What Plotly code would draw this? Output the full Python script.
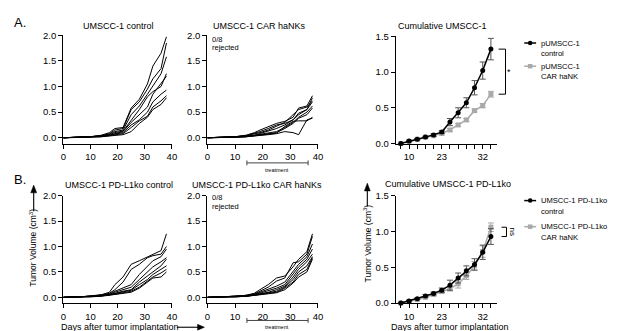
import plotly.graph_objects as go

W, H = 617, 331
def fx(p): return p / W
def fy(p): return 1 - p / H

FONT = "Liberation Sans, Arial, sans-serif"
GRAY = "#a9a9a9"

# ---------------- data ----------------
days = [0, 7, 10, 14, 17, 19, 22, 25, 28, 31, 33, 36, 38]

ctrl_A = [
    [0, 0.01, 0.02, 0.05, 0.10, 0.18, 0.20, 0.58, 0.75, 1.05, 1.40, 1.65, 1.97],
    [0, 0.01, 0.02, 0.04, 0.08, 0.15, 0.18, 0.55, 0.70, 0.95, 1.15, 1.35, 1.85],
    [0, 0.01, 0.02, 0.04, 0.07, 0.12, 0.15, 0.45, 0.62, 0.85, 1.00, 1.25, 1.58],
    [0, 0.01, 0.02, 0.03, 0.06, 0.10, 0.13, 0.35, 0.55, 0.80, 0.90, 1.00, 1.25],
    [0, 0.01, 0.02, 0.03, 0.05, 0.08, 0.12, 0.30, 0.45, 0.60, 0.85, 1.05, 1.20],
    [0, 0.01, 0.01, 0.03, 0.05, 0.07, 0.10, 0.25, 0.35, 0.50, 0.70, 0.85, 0.93],
    [0, 0.01, 0.01, 0.02, 0.04, 0.06, 0.08, 0.20, 0.33, 0.42, 0.60, 0.72, 0.82],
    [0, 0.00, 0.01, 0.02, 0.03, 0.05, 0.06, 0.12, 0.28, 0.40, 0.55, 0.65, 0.78],
]
car_A = [
    [0, 0.01, 0.02, 0.05, 0.10, 0.15, 0.22, 0.28, 0.32, 0.40, 0.58, 0.62, 0.82],
    [0, 0.01, 0.02, 0.04, 0.08, 0.12, 0.18, 0.25, 0.28, 0.35, 0.45, 0.55, 0.78],
    [0, 0.01, 0.02, 0.04, 0.07, 0.10, 0.15, 0.22, 0.30, 0.45, 0.55, 0.60, 0.72],
    [0, 0.01, 0.01, 0.03, 0.05, 0.08, 0.12, 0.18, 0.25, 0.35, 0.48, 0.55, 0.70],
    [0, 0.01, 0.01, 0.03, 0.05, 0.07, 0.10, 0.12, 0.20, 0.30, 0.40, 0.50, 0.62],
    [0, 0.00, 0.01, 0.02, 0.04, 0.06, 0.08, 0.10, 0.18, 0.28, 0.38, 0.45, 0.58],
    [0, 0.00, 0.01, 0.02, 0.03, 0.05, 0.07, 0.09, 0.22, 0.32, 0.33, 0.33, 0.40],
    [0, 0.00, 0.01, 0.02, 0.03, 0.04, 0.06, 0.08, 0.12, 0.10, 0.06, 0.35, 0.38],
]
ctrl_B = [
    [0, 0.01, 0.03, 0.05, 0.10, 0.25, 0.40, 0.65, 0.72, 0.80, 0.85, 0.92, 1.25],
    [0, 0.01, 0.02, 0.05, 0.08, 0.15, 0.30, 0.55, 0.65, 0.78, 0.82, 0.85, 1.00],
    [0, 0.01, 0.02, 0.04, 0.07, 0.12, 0.18, 0.25, 0.45, 0.60, 0.72, 0.80, 0.95],
    [0, 0.01, 0.02, 0.04, 0.06, 0.10, 0.15, 0.20, 0.35, 0.50, 0.60, 0.70, 0.78],
    [0, 0.01, 0.02, 0.03, 0.05, 0.08, 0.12, 0.15, 0.30, 0.42, 0.50, 0.62, 0.75],
    [0, 0.01, 0.02, 0.03, 0.05, 0.07, 0.10, 0.14, 0.25, 0.35, 0.45, 0.55, 0.62],
    [0, 0.00, 0.01, 0.03, 0.04, 0.06, 0.09, 0.12, 0.20, 0.32, 0.40, 0.48, 0.55],
    [0, 0.00, 0.01, 0.02, 0.04, 0.05, 0.08, 0.10, 0.18, 0.30, 0.38, 0.40, 0.50],
]
car_B = [
    [0, 0.01, 0.02, 0.04, 0.08, 0.15, 0.25, 0.38, 0.42, 0.60, 0.75, 0.90, 1.25],
    [0, 0.01, 0.02, 0.04, 0.07, 0.12, 0.20, 0.32, 0.38, 0.68, 0.70, 0.85, 1.20],
    [0, 0.01, 0.02, 0.03, 0.06, 0.10, 0.15, 0.22, 0.30, 0.50, 0.65, 0.80, 1.05],
    [0, 0.01, 0.01, 0.03, 0.05, 0.08, 0.12, 0.18, 0.25, 0.45, 0.60, 0.75, 0.95],
    [0, 0.01, 0.01, 0.03, 0.05, 0.07, 0.10, 0.15, 0.22, 0.40, 0.55, 0.70, 0.85],
    [0, 0.00, 0.01, 0.02, 0.04, 0.06, 0.09, 0.12, 0.20, 0.35, 0.50, 0.62, 0.80],
    [0, 0.00, 0.01, 0.02, 0.04, 0.05, 0.08, 0.10, 0.18, 0.30, 0.45, 0.55, 0.78],
    [0, 0.00, 0.01, 0.02, 0.03, 0.05, 0.07, 0.09, 0.15, 0.28, 0.40, 0.50, 0.75],
]

cum_pos = list(range(12))
cum_labels = ["", "10", "", "", "", "23", "", "", "", "", "32", ""]

cumA_ctrl = [0.0, 0.035, 0.06, 0.09, 0.12, 0.16, 0.30, 0.43, 0.57, 0.78, 1.02, 1.32]
cumA_ctrl_err = [0.0, 0.01, 0.01, 0.01, 0.02, 0.02, 0.05, 0.07, 0.07, 0.10, 0.12, 0.15]
cumA_car = [0.0, 0.03, 0.06, 0.09, 0.11, 0.14, 0.19, 0.26, 0.33, 0.46, 0.53, 0.69]
cumA_car_err = [0.0, 0.01, 0.01, 0.01, 0.01, 0.02, 0.02, 0.02, 0.02, 0.02, 0.03, 0.04]

cumB_ctrl = [0.0, 0.03, 0.06, 0.10, 0.135, 0.18, 0.25, 0.35, 0.45, 0.54, 0.71, 0.93]
cumB_ctrl_err = [0.0, 0.01, 0.01, 0.02, 0.02, 0.03, 0.07, 0.07, 0.07, 0.08, 0.10, 0.11]
cumB_car = [0.0, 0.02, 0.05, 0.08, 0.12, 0.16, 0.20, 0.27, 0.38, 0.52, 0.72, 1.06]
cumB_car_err = [0.0, 0.01, 0.01, 0.01, 0.02, 0.02, 0.03, 0.06, 0.05, 0.06, 0.08, 0.06]

# ---------------- figure ----------------
fig = go.Figure()

def add_individual(curves, xa, ya):
    for c in curves:
        fig.add_trace(go.Scatter(x=days, y=c, mode="lines", xaxis=xa, yaxis=ya,
                                 line=dict(color="black", width=1), showlegend=False,
                                 hoverinfo="skip"))

add_individual(ctrl_A, "x", "y")
add_individual(car_A, "x2", "y2")
add_individual(ctrl_B, "x4", "y4")
add_individual(car_B, "x5", "y5")

def add_cum(vals, err, color, symbol, xa, ya, errcolor):
    fig.add_trace(go.Scatter(x=cum_pos, y=vals, mode="lines+markers", xaxis=xa, yaxis=ya,
                             line=dict(color=color, width=1.5),
                             marker=dict(color=color, size=5, symbol=symbol),
                             error_y=dict(type="data", array=err, color=errcolor,
                                          thickness=1, width=3),
                             cliponaxis=False, showlegend=False))

add_cum(cumA_car, cumA_car_err, GRAY, "square", "x3", "y3", GRAY)
add_cum(cumA_ctrl, cumA_ctrl_err, "black", "circle", "x3", "y3", "#555555")
add_cum(cumB_car, cumB_car_err, GRAY, "square", "x6", "y6", GRAY)
add_cum(cumB_ctrl, cumB_ctrl_err, "black", "circle", "x6", "y6", "#555555")

# ---------------- axes ----------------
tickfont = dict(family=FONT, size=9.5, color="black")
axcommon = dict(showline=True, linecolor="black", linewidth=1.4, ticks="outside",
                ticklen=4, tickwidth=1.2, tickcolor="black", showgrid=False,
                zeroline=False, tickfont=tickfont)

def ind_axes(n, xl, xr, ytop, ybot):
    sx = "" if n == 1 else str(n)
    fig.update_layout(**{
        "xaxis" + sx: dict(domain=[fx(xl), fx(xr)], anchor="y" + sx, range=[0, 40],
                           tickvals=[0, 10, 20, 30, 40], **axcommon),
        "yaxis" + sx: dict(domain=[fy(ybot), fy(ytop)], anchor="x" + sx,
                           range=[-0.113, 2.0], tickvals=[0, 0.5, 1.0, 1.5, 2.0],
                           tickformat=".1f", **axcommon),
    })

ind_axes(1, 53, 163, 22, 134)
ind_axes(2, 199, 311, 22, 134)
ind_axes(4, 53, 163, 188, 299)
ind_axes(5, 199, 311, 188, 299)

def cum_axes(n, ytop, ybot):
    sx = str(n)
    fig.update_layout(**{
        "xaxis" + sx: dict(domain=[fx(390), fx(492)], anchor="y" + sx, range=[-0.6, 11.7],
                           tickvals=cum_pos, ticktext=cum_labels, **axcommon),
        "yaxis" + sx: dict(domain=[fy(ybot), fy(ytop)], anchor="x" + sx,
                           range=[0, 1.5], tickvals=[0, 0.5, 1.0, 1.5],
                           tickformat=".1f", **axcommon),
    })

cum_axes(3, 23, 134)
cum_axes(6, 188, 299)

# ---------------- annotations ----------------
ann = []
def text(x, y, t, size=9, xanchor="center", angle=0, yanchor="middle"):
    ann.append(dict(x=fx(x), y=fy(y), xref="paper", yref="paper", text=t,
                    showarrow=False, xanchor=xanchor, yanchor=yanchor, textangle=angle,
                    borderpad=0, font=dict(family=FONT, size=size, color="black")))

text(2, 9, "A.", size=13, xanchor="left")
text(2, 171, "B.", size=13, xanchor="left")
text(109, 12, "UMSCC-1 control")
text(252, 12, "UMSCC-1 CAR haNKs")
text(437, 12, "Cumulative UMSCC-1")
text(109, 177, "UMSCC-1 PD-L1ko control")
text(249, 177, "UMSCC-1 PD-L1ko CAR haNKs")
text(378, 176, "Cumulative UMSCC-1 PD-L1ko", xanchor="left")

for yy in (26, 190):
    text(203, yy, "0/8", size=7.5, xanchor="left")
    text(203, yy + 9, "rejected", size=7.5, xanchor="left")

text(270, 161, "treatment", size=5.5)
text(270, 324, "treatment", size=5.5)

text(23, 242, "Tumor Volume (cm<sup>3</sup>)", size=8.5, angle=-90)
text(361, 237, "Tumor Volume (cm<sup>3</sup>)", size=8.5, angle=-90)
text(50, 324, "Days after tumor implantation", xanchor="left")
text(445, 324, "Days after tumor implantation")

# significance labels
ann.append(dict(x=fx(505), y=(cumA_ctrl[-1] + cumA_car[-1]) / 2, xref="paper", yref="y3",
                text="*", showarrow=False, xanchor="center",
                font=dict(family=FONT, size=9, color="black")))
ann.append(dict(x=fx(508), y=(cumB_ctrl[-1] + cumB_car[-1]) / 2, xref="paper", yref="y6",
                text="ns", showarrow=False, textangle=90, xanchor="center",
                font=dict(family=FONT, size=8, color="black")))

# legend text
for (y, t) in [(30, "pUMSCC-1"), (41, "control"), (54, "pUMSCC-1"), (65, "CAR haNK"),
               (193, "UMSCC-1 PD-L1ko"), (204, "control"),
               (220, "UMSCC-1 PD-L1ko"), (231, "CAR haNK")]:
    text(536, y, t, size=7.6, xanchor="left")

fig.update_layout(annotations=ann)

# ---------------- shapes ----------------
shapes = []
def pline(x0, y0, x1, y1, color="black", w=1):
    shapes.append(dict(type="line", xref="paper", yref="paper", x0=fx(x0), y0=fy(y0),
                       x1=fx(x1), y1=fy(y1), line=dict(color=color, width=w)))

def ppath(pts, color="black"):
    d = "M " + " L ".join(f"{fx(a)},{fy(b)}" for a, b in pts) + " Z"
    shapes.append(dict(type="path", xref="paper", yref="paper", path=d,
                       fillcolor=color, line=dict(color=color, width=0.5)))

# arrows
pline(168, 324, 190, 324, w=1.1)
ppath([(196, 324), (189, 321), (189, 327)])
pline(23, 184, 23, 204, w=1.1)
ppath([(23, 177), (20, 185), (26, 185)])
pline(361, 182, 361, 199, w=1.1)
ppath([(361, 175), (358, 183), (364, 183)])

# treatment bars
for yb in (154, 317):
    pline(239, yb, 301, yb, color="#444444", w=1)
    pline(239, yb - 2.5, 239, yb + 2.5, color="#444444", w=1)
    pline(301, yb - 2.5, 301, yb + 2.5, color="#444444", w=1)

# brackets
def bracket(xl, xr, yref, v1, v2):
    for v in (v1, v2):
        shapes.append(dict(type="line", xref="paper", yref=yref, x0=fx(xl), x1=fx(xr),
                           y0=v, y1=v, line=dict(color="black", width=1)))
    shapes.append(dict(type="line", xref="paper", yref=yref, x0=fx(xr), x1=fx(xr),
                       y0=v1, y1=v2, line=dict(color="black", width=1)))

bracket(494, 501, "y3", cumA_ctrl[-1], cumA_car[-1])
bracket(497, 502, "y6", cumB_car[-1], cumB_ctrl[-1])

# legend glyphs
def glyph(y, color, kind):
    pline(520, y, 532, y, color=color, w=1.5)
    r = 2.3
    shapes.append(dict(type=kind, xref="paper", yref="paper",
                       x0=fx(526 - r), x1=fx(526 + r), y0=fy(y + r), y1=fy(y - r),
                       fillcolor=color, line=dict(color=color, width=0)))

glyph(30, "black", "circle")
glyph(54, GRAY, "rect")
glyph(193, "black", "circle")
glyph(220, GRAY, "rect")

fig.update_layout(shapes=shapes, width=W, height=H,
                  margin=dict(l=0, r=0, t=0, b=0),
                  paper_bgcolor="white", plot_bgcolor="white", showlegend=False,
                  font=dict(family=FONT, color="black"))

fig.write_html("out.html")
